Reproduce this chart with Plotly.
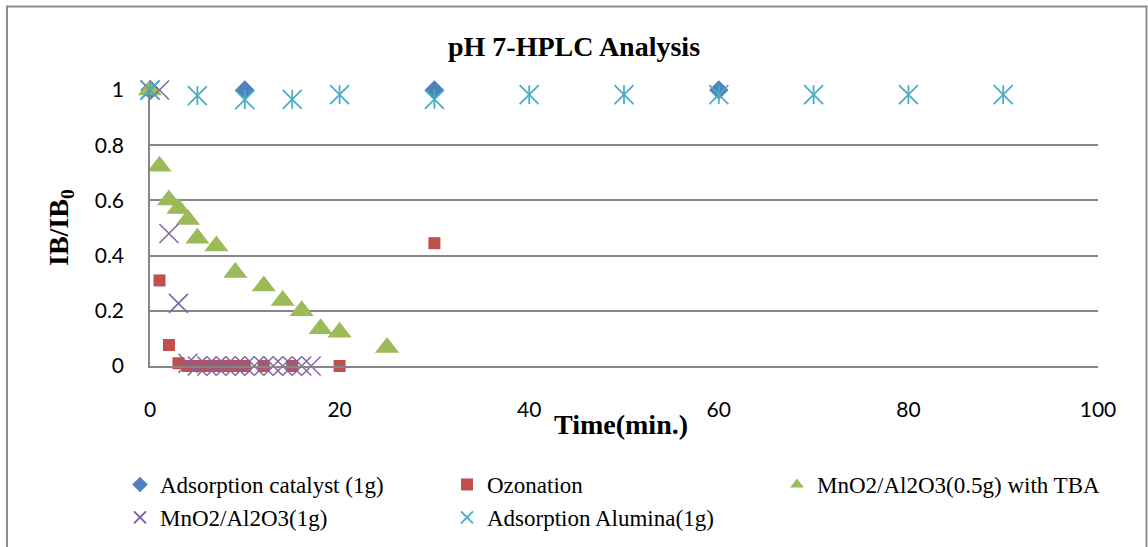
import plotly.graph_objects as go

# ---- data ----
ads_cat_x = [0, 10, 30, 60]
ads_cat_y = [1, 1, 1, 1]

ozon_x = [0, 1, 2, 3, 4, 5, 6, 7, 8, 9, 10, 12, 15, 20, 30]
ozon_y = [1, 0.31, 0.076, 0.01, 0, 0, 0, 0, 0, 0, 0, 0, 0, 0, 0.445]

tba_x = [0, 1, 2, 3, 4, 5, 7, 9, 12, 14, 16, 18, 20, 25]
tba_y = [1, 0.724, 0.601, 0.571, 0.531, 0.463, 0.435, 0.339, 0.29, 0.237, 0.2, 0.135, 0.122, 0.067]

mno_x = [0, 1, 2, 3, 4, 5, 6, 7, 8, 9, 10, 11, 12, 13, 14, 15, 16, 17]
mno_y = [1, 1, 0.48, 0.227, 0.01, 0, 0, 0, 0, 0, 0, 0, 0, 0, 0, 0, 0, 0]

alu_x = [0, 5, 10, 15, 20, 30, 40, 50, 60, 70, 80, 90]
alu_y = [1, 0.98, 0.965, 0.966, 0.983, 0.966, 0.983, 0.983, 0.983, 0.983, 0.983, 0.983]

names = ["Adsorption catalyst (1g)", "Ozonation", "MnO2/Al2O3(0.5g) with TBA",
         "MnO2/Al2O3(1g)", "Adsorption Alumina(1g)"]
x_ticks = [0, 20, 40, 60, 80, 100]
y_ticks = [0, 0.2, 0.4, 0.6, 0.8, 1]
y_ticktext = ["0", "0.2", "0.4", "0.6", "0.8", "1"]

BLUE, RED, GREEN, PURPLE, AQUA = "#4F81BD", "#C0504D", "#9BBB59", "#8064A2", "#4BACC6"
GRID = "#868686"
SERIF = "Liberation Serif"
SANS = "Lato"

fig = go.Figure()
fig.add_trace(go.Scatter(x=ads_cat_x, y=ads_cat_y, mode="markers", name=names[0], legend="legend",
                         marker=dict(symbol="diamond", size=15, color=BLUE), cliponaxis=False))
fig.add_trace(go.Scatter(x=ozon_x, y=ozon_y, mode="markers", name=names[1], legend="legend2",
                         marker=dict(symbol="square", size=12, color=RED), cliponaxis=False))
fig.add_trace(go.Scatter(x=tba_x, y=tba_y, mode="markers", name=names[2], legend="legend3",
                         marker=dict(symbol="triangle-up", size=21, color=GREEN), cliponaxis=False))
fig.add_trace(go.Scatter(x=mno_x, y=mno_y, mode="markers", name=names[3], legend="legend",
                         marker=dict(symbol="x-thin-open", size=19, color=PURPLE,
                                     line=dict(color=PURPLE, width=1.5)), cliponaxis=False))
fig.add_trace(go.Scatter(x=alu_x, y=alu_y, mode="markers", name=names[4], legend="legend2",
                         legendgroup="alu",
                         marker=dict(symbol="x-thin-open", size=19, color=AQUA,
                                     line=dict(color=AQUA, width=1.8)), cliponaxis=False))
fig.add_trace(go.Scatter(x=alu_x, y=alu_y, mode="markers", name=names[4], legend="legend2",
                         legendgroup="alu", showlegend=False,
                         marker=dict(symbol="line-ns-open", size=13.5, color=AQUA,
                                     line=dict(color=AQUA, width=1.8)), cliponaxis=False))

W, H = 1148, 547
L, R, T, B = 150, 50, 90, 181
pw, ph = W - L - R, H - T - B

def px_to_paper_x(px):
    return (px - L) / pw

def px_to_paper_y(py):
    return (H - B - py) / ph

def legend_at(px_left):
    return dict(orientation="v", x=px_left / W, xref="container", xanchor="left",
                y=1 - 463 / H, yref="container", yanchor="top", itemsizing="constant",
                font=dict(family=SERIF, size=23, color="black"), bgcolor="rgba(0,0,0,0)",
                tracegroupgap=0)

fig.update_layout(
    width=W, height=H,
    margin=dict(l=L, r=R, t=T, b=B, pad=0, autoexpand=False),
    paper_bgcolor="white", plot_bgcolor="white",
    title=dict(text="<b>pH 7-HPLC Analysis</b>", x=0.5, xref="container", xanchor="center",
               y=1 - 46 / H, yref="container", yanchor="middle",
               font=dict(family=SERIF, size=28, color="black")),
    xaxis=dict(range=[0, 100], tickvals=x_ticks, showgrid=False, zeroline=False,
               showline=True, linecolor=GRID, linewidth=1.5, ticks="",
               tickfont=dict(family=SANS, size=21, color="black"), ticklabelstandoff=24),
    yaxis=dict(range=[0, 1], tickvals=y_ticks, ticktext=y_ticktext, showgrid=True,
               gridcolor=GRID, gridwidth=1.5, zeroline=False,
               showline=True, linecolor=GRID, linewidth=1.5, ticks="",
               tickfont=dict(family=SANS, size=21, color="black"), ticklabelstandoff=20),
    legend=legend_at(120),
    legend2=legend_at(447),
    legend3=legend_at(777),
    showlegend=True,
    annotations=[
        dict(text="<b>Time(min.)</b>", xref="paper", yref="paper",
             x=px_to_paper_x(621), y=px_to_paper_y(424), xanchor="center", yanchor="middle",
             showarrow=False, font=dict(family=SERIF, size=28, color="black")),
        dict(text="<b>IB/IB<sub>0</sub></b>", xref="paper", yref="paper", textangle=-90,
             x=px_to_paper_x(60), y=px_to_paper_y(228), xanchor="center", yanchor="middle",
             showarrow=False, font=dict(family=SERIF, size=28, color="black")),
    ],
    shapes=[dict(type="rect", xref="paper", yref="paper",
                 x0=px_to_paper_x(7), x1=px_to_paper_x(1146.5),
                 y0=px_to_paper_y(600), y1=px_to_paper_y(6.5),
                 line=dict(color="#8c8c8c", width=2), fillcolor="rgba(0,0,0,0)")],
)

fig.write_html("out.html")
